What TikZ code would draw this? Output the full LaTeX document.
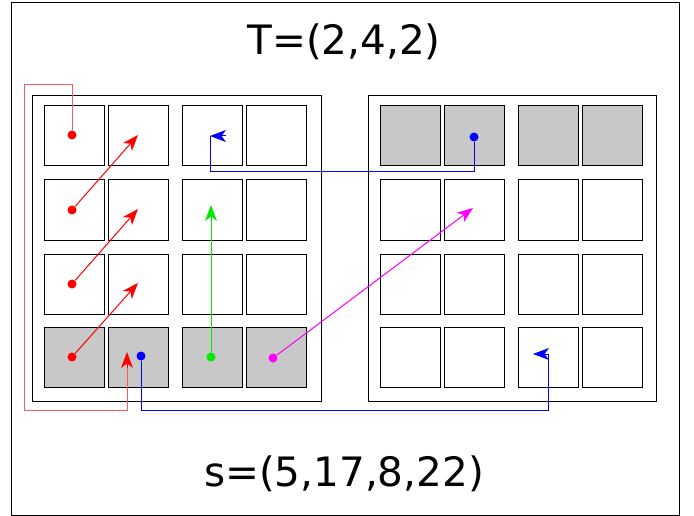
\documentclass[tikz,border=0pt]{standalone}
\usepackage{fontspec}
\setmainfont{DejaVu Sans}
\usetikzlibrary{arrows.meta}
\definecolor{cellgray}{RGB}{200,200,200}
\definecolor{lightred}{RGB}{255,90,90}
\definecolor{pureblue}{RGB}{0,0,255}
\definecolor{puregreen}{RGB}{0,235,0}
\definecolor{puremag}{RGB}{255,0,255}
\definecolor{purered}{RGB}{255,0,0}
\tikzset{headtip/.tip={Stealth[length=16pt,width=12pt,inset=4.5pt]}}
\begin{document}
\begin{tikzpicture}[x=1pt,y=-1pt,
  cellbox/.style={draw=black,line width=1pt},
  bigbox/.style={draw=black,line width=0.9pt},
  dot/.style={circle,inner sep=0pt,minimum size=9pt,fill=#1},
  link/.style={line width=1pt,#1,-headtip},
  plainlink/.style={line width=1pt,#1},
  tip/.style={line width=1pt,#1,-headtip},
  label/.style={font=\fontsize{40.5}{48}\selectfont}
]
\useasboundingbox (0,0) rectangle (694,516);
\draw[line width=0.8pt] (11,2) rectangle (679,515);

% titles
\node[label] (title) at (344,42) {T=(2,4,2)};
\node[label] (sub) at (344,474) {s=(5,17,8,22)};

% big boxes
\draw[bigbox] (32,95) rectangle (321,401);
\draw[bigbox] (368,95) rectangle (656,401);

% cells
\foreach \x in {44,108,182,246} {
  \foreach \y in {106,180,254} \draw[cellbox] (\x,\y) rectangle ++(60,60);
  \draw[cellbox,fill=cellgray] (\x,327) rectangle ++(60,60);
}
\foreach \x in {380,444,518,582} {
  \draw[cellbox,fill=cellgray] (\x,106) rectangle ++(60,60);
  \foreach \y in {180,254,327} \draw[cellbox] (\x,\y) rectangle ++(60,60);
}

% dots
\node[dot=purered] (r1) at (72,135) {};
\node[dot=purered] (r2) at (72,210) {};
\node[dot=purered] (r3) at (72,284) {};
\node[dot=purered] (r4) at (72,357) {};
\node[dot=pureblue] (b1) at (141,356) {};
\node[dot=puregreen] (g) at (211,357) {};
\node[dot=puremag] (m) at (273,358) {};
\node[dot=pureblue] (b2) at (474,137) {};

% arrow end points
\coordinate (ra1) at (138,135);
\coordinate (ra2) at (138,209);
\coordinate (ra3) at (138,283);
\coordinate (rt) at (127,352);
\coordinate (ge) at (211,205);
\coordinate (me) at (473,208);
\coordinate (b2e) at (210,136);
\coordinate (b2t) at (226,136);
\coordinate (b1e) at (548,354);
\coordinate (b1t) at (533,354);

% red diagonal arrows
\draw[link=purered] (r2) -- (ra1);
\draw[link=purered] (r3) -- (ra2);
\draw[link=purered] (r4) -- (ra3);

% red loop
\draw[plainlink=lightred] (r1) -- (72,85) -- (24,85) -- (24,410) -- (127,410) -- (127,366);
\draw[link=purered] (127,368) -- (rt);

% green and magenta
\draw[link=puregreen] (g) -- (ge);
\draw[link=puremag] (m) -- (me);

% blue from right box
\draw[plainlink=pureblue] (b2) -- (474,172) -- (210,172) -- (b2e);
\draw[tip=pureblue] (b2t) -- (b2e);

% blue to right box
\draw[plainlink=pureblue] (b1) -- (141,410) -- (548,410) -- (b1e);
\draw[link=pureblue] (b1e) -- (b1t);
\end{tikzpicture}
\end{document}
